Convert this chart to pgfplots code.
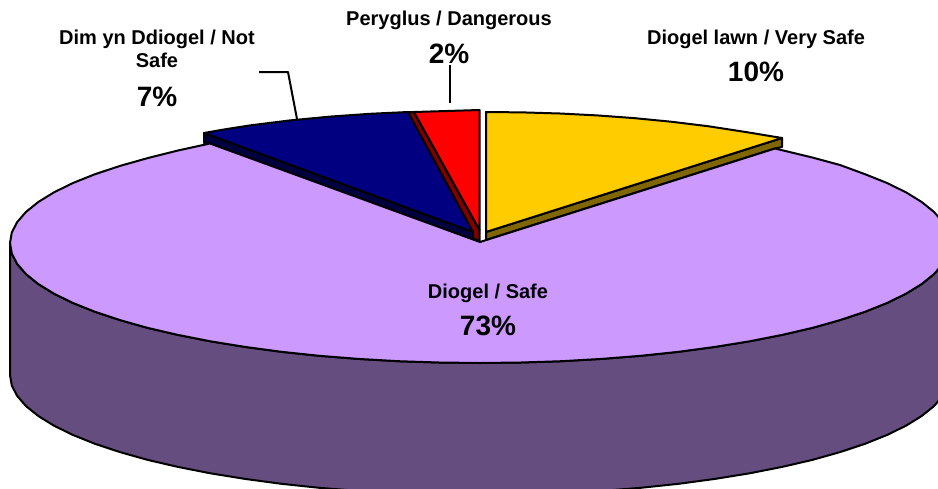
\documentclass[border=0pt]{standalone}
\usepackage{fontspec}
\setmainfont{Liberation Sans}
\usepackage{pgfplots}
\pgfplotsset{compat=1.18}
\definecolor{pu}{HTML}{CC99FF}
\definecolor{pud}{HTML}{664D80}
\definecolor{ye}{HTML}{FFCC00}
\definecolor{yed}{HTML}{806600}
\definecolor{na}{HTML}{000080}
\definecolor{nad}{HTML}{000040}
\definecolor{re}{HTML}{FF0000}
\definecolor{red2}{HTML}{800000}
\newcommand{\lab}{\fontsize{20}{24}\selectfont\bfseries}
\newcommand{\pct}{\fontsize{28}{32}\selectfont\bfseries}
\begin{document}
\begin{tikzpicture}
\begin{axis}[
  scale only axis, width=938pt, height=488pt,
  xmin=0, xmax=938, ymin=0, ymax=488, y dir=reverse,
  hide axis, no markers, clip=true,
  every axis plot/.append style={draw=black, line width=2pt, line join=round, solid},
]
% purple wall
\addplot[fill=pud] coordinates {
(950,243)(948.2,253.5)(942.9,263.8)(934,274.1)(921.7,284)(906,293.7)(887,303)(865,311.8)(840,320.1)(812.3,327.9)(782.1,334.9)(749.6,341.3)(715,346.9)(678.6,351.8)(640.7,355.8)(601.6,358.9)(561.6,361.2)(521,362.5)(480,363)
(439,362.5)(398.4,361.2)(358.4,358.9)(319.3,355.8)(281.4,351.8)(245,346.9)(210.4,341.3)(177.9,334.9)(147.7,327.9)(120,320.1)(95,311.8)(73,303)(54,293.7)(38.3,284)(26,274.1)(17.1,263.8)(11.8,253.5)(10,243)
(10,375)(11.8,385.5)(17.1,395.8)(26,406.1)(38.3,416)(54,425.7)(73,435)(95,443.8)(120,452.1)(147.7,459.9)(177.9,466.9)(210.4,473.3)(245,478.9)(281.4,483.8)(319.3,487.8)(358.4,490.9)(398.4,493.2)(439,494.5)(480,495)
(521,494.5)(561.6,493.2)(601.6,490.9)(640.7,487.8)(678.6,483.8)(715,478.9)(749.6,473.3)(782.1,466.9)(812.3,459.9)(840,452.1)(865,443.8)(887,435)(906,425.7)(921.7,416)(934,406.1)(942.9,395.8)(948.2,385.5)(950,375)
} -- cycle;
% yellow side and face
\addplot[fill=yed] coordinates {(486,232)(782,138)(782,147)(775,148.5)(486,240)} -- cycle;
\addplot[fill=ye] coordinates {(486,112)(523,112.4)(560,113.5)(597,115.4)(634,118.1)(671,121.7)(708,126.2)(745,131.9)(782,138)(486,232)} -- cycle;
% red side and face
\addplot[fill=red2] coordinates {(414,112)(479.5,230)(479.5,241)(473,238)(408,112)} -- cycle;
\addplot[fill=re] coordinates {(414,112)(447,111)(479.5,110)(479.5,230)} -- cycle;
% navy side and face
\addplot[fill=nad] coordinates {(204,133)(473,232)(473,240)(204,143)} -- cycle;
\addplot[fill=na] coordinates {(204,133)(225,129.3)(250,125.4)(290,120.4)(330,116.6)(370,113.8)(408,112)(473,232)} -- cycle;
% purple face
\addplot[fill=pu] coordinates {
(480,242)(775,148.5)(812.3,157.5)(840,165)(865,174.2)(887,183)(906,192.3)(921.7,202)(934,211.9)(942.9,222.2)(948.2,232.5)(950,243)
(948.2,253.5)(942.9,263.8)(934,274.1)(921.7,284)(906,293.7)(887,303)(865,311.8)(840,320.1)(812.3,327.9)(782.1,334.9)(749.6,341.3)(715,346.9)(678.6,351.8)(640.7,355.8)(601.6,358.9)(561.6,361.2)(521,362.5)(480,363)
(439,362.5)(398.4,361.2)(358.4,358.9)(319.3,355.8)(281.4,351.8)(245,346.9)(210.4,341.3)(177.9,334.9)(147.7,327.9)(120,320.1)(95,311.8)(73,303)(54,293.7)(38.3,284)(26,274.1)(17.1,263.8)(11.8,253.5)(10,243)
(11.8,232.5)(17.1,222.2)(26,211.9)(38.3,202)(54,192.3)(73,183)(95,174.2)(120,165.9)(147.7,158.1)(177.9,150.5)(210,143.5)
} -- cycle;
% leader lines
\addplot[draw=black] coordinates {(259,72)(288,72)(297,119)};
\addplot[draw=black] coordinates {(450,65)(450,103)};
% labels
\node[font=\lab] at (axis cs:449,20.5) {Peryglus / Dangerous};
\node[font=\pct] at (axis cs:449,54) {2\%};
\node[font=\lab] at (axis cs:756,39.5) {Diogel lawn / Very Safe};
\node[font=\pct] at (axis cs:756,72) {10\%};
\node[font=\lab] at (axis cs:157,39.5) {Dim yn Ddiogel / Not};
\node[font=\lab] at (axis cs:157,60.5) {Safe};
\node[font=\pct] at (axis cs:157,97) {7\%};
\node[font=\lab] at (axis cs:488,293.5) {Diogel / Safe};
\node[font=\pct] at (axis cs:488,326) {73\%};
\end{axis}
\pgfresetboundingbox
\path[use as bounding box] (0,0) rectangle (938pt,488pt);
\end{tikzpicture}
\end{document}
